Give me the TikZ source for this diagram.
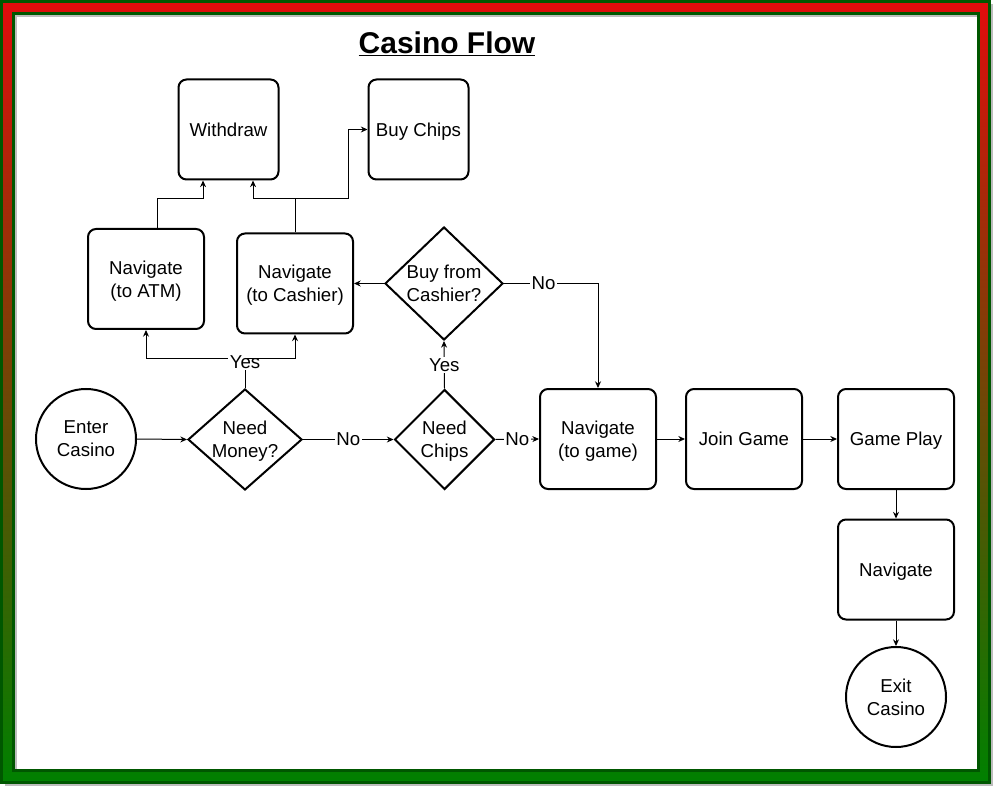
\documentclass[tikz,border=0pt]{standalone}
\usepackage{fontspec}
\setmainfont{Liberation Sans}
\usetikzlibrary{arrows.meta,positioning,shapes.geometric}
\definecolor{framered}{HTML}{E00C0C}
\definecolor{framegreen}{HTML}{008000}
\definecolor{framedark}{HTML}{005700}
\definecolor{shadowgray}{HTML}{BDBDBD}

\begin{document}
\begin{tikzpicture}[x=0.75pt, y=-0.75pt,
  txt/.style={font=\fontsize{14}{17.25}\selectfont, align=center, text depth=0pt},
  box/.style={txt, draw, line width=1.5pt, rounded corners=6pt, minimum width=87pt, minimum height=75pt, inner sep=0pt},
  term/.style={txt, draw, circle, line width=1.5pt, minimum size=75pt, inner sep=0pt},
  decision/.style={txt, draw, diamond, line width=1.5pt, inner sep=0pt},
  flow/.style={line width=0.75pt, -{Stealth[length=5pt, width=4.5pt]}},
  lbl/.style={txt, fill=white, inner sep=1pt}]
  \useasboundingbox (0,0) rectangle (994,787);

  % Frame
  \fill[shadowgray] (4.5,4.5) rectangle (993,786);
  \shadedraw[top color=framered, bottom color=framegreen, draw=framedark, line width=2.25pt]
    (1.5,1.5) rectangle (989.5,782.5);
  \fill[shadowgray] (15,15) rectangle (976.5,769);
  \fill[white] (17,17) rectangle (976.5,769);
  \draw[framedark, line width=2.25pt] (13.5,13.5) rectangle (978,770.5);

  % Title
  \node[font=\fontsize{22.5}{26}\selectfont\bfseries] (title) at (447,44) {\underline{Casino Flow}};

  % Main row
  \node[term] (enter) at (86,439) {Enter\\Casino};
  \node[decision, minimum width=85.5pt, minimum height=75.75pt, aspect=1.13] (money) at (245,439.5) {Need\\Money?};
  \node[decision, minimum size=75pt] (chips) at (444.5,439.5) {Need\\Chips};
  \node[box] (togame) at (598,439) {Navigate\\(to game)};
  \node[box] (join) at (744,439) {Join Game};
  \node[box] (play) at (896,439) {Game Play};
  \node[box] (navout) at (896,569.5) {Navigate};
  \node[term] (exit) at (896,697) {Exit\\Casino};

  % Money and chips
  \node[box] (atm) at (146,279) {Navigate\\(to ATM)};
  \node[box] (cashier) at (295,283.5) {Navigate\\(to Cashier)};
  \node[decision, minimum width=88.5pt, minimum height=84.75pt, aspect=1.04] (cashq) at (444,283.5) {Buy from\\Cashier?};
  \node[box, minimum width=75pt] (withdraw) at (228.5,129.5) {Withdraw};
  \node[box, minimum width=75pt] (chipsbuy) at (418.5,129.5) {Buy Chips};

  % Junctions
  \coordinate (yj) at (245,358);
  \coordinate (aj) at (157,199);
  \coordinate (cj) at (295,199);
  \coordinate (bj) at (348.5,199);

  % Connectors
  \draw[flow] (enter.east) -- (money.west);
  \draw[flow] (money.east) -- node[lbl] (noA) {No} (chips.west);
  \draw[flow] (chips.east) -- node[lbl] (noB) {No} (togame.west);
  \draw[flow] (togame.east) -- (join.west);
  \draw[flow] (join.east) -- (play.west);
  \draw[flow] (play.south) -- (navout.north);
  \draw[flow] (navout.south) -- (exit.north);

  \draw[flow] (money.north) -- node[lbl, pos=0.87] (yesA) {Yes} (yj) -| (atm.south);
  \draw[flow] (yj) -| (cashier.south);
  \draw[flow] (chips.north) -- node[lbl] (yesB) {Yes} (cashq.south);
  \draw[flow] (cashq.west) -- (cashier.east);
  \draw[flow] (cashq.east) -| node[lbl, pos=0.21] (noC) {No} (togame.north);

  \draw[flow] ([xshift=8.25pt]atm.north) -- (aj) -| ([xshift=-19.1pt]withdraw.south);
  \draw[flow] (cashier.north) -- (cj) -| ([xshift=18.4pt]withdraw.south);
  \draw[flow] (cj) -- (bj) |- (chipsbuy.west);
\end{tikzpicture}
\end{document}
